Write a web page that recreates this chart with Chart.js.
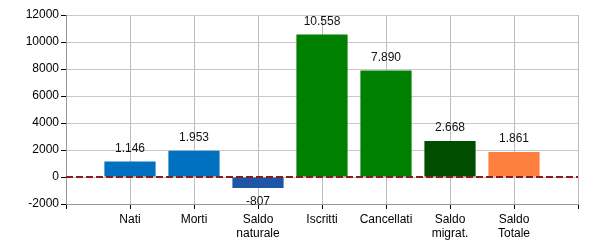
<!DOCTYPE html>
<html><head><meta charset="utf-8">
<script src="https://cdn.jsdelivr.net/npm/chart.js@4"></script>
<style>html,body{margin:0;padding:0;background:#fff}#wrap{width:600px;height:250px}</style>
</head><body><div id="wrap"><canvas id="c" width="600" height="250"></canvas></div>
<script>
const categories = ['', 'Nati', 'Morti', ['Saldo','naturale'], 'Iscritti', 'Cancellati', ['Saldo','migrat.'], ['Saldo','Totale'], ''];
const values = [null, 1146, 1953, -807, 10558, 7890, 2668, 1861, null];
const barColors = [null, '#0070C0', '#0070C0', '#1F55A5', '#008000', '#008000', '#004D00', '#FF7F40', null];
const zeroLine = [0, 0, 0, 0, 0, 0, 0, 0, 0];
const yTicks = [-2000, 0, 2000, 4000, 6000, 8000, 10000, 12000];

function fmt(v){ const s = Math.abs(v).toString().replace(/\B(?=(\d{3})+(?!\d))/g, '.'); return (v<0?'-':'')+s; }

const labelPlugin = {
  id: 'valLabels',
  afterDatasetsDraw(chart){
    const ctx = chart.ctx; const meta = chart.getDatasetMeta(0);
    ctx.save(); ctx.font = '12px "Liberation Sans", Arial, sans-serif'; ctx.fillStyle = '#111'; ctx.textAlign = 'center';
    meta.data.forEach((el, i) => {
      const v = values[i]; if (v === null) return;
      if (v >= 0) { ctx.textBaseline = 'bottom'; ctx.fillText(fmt(v), el.x, el.y - 7); }
      else { ctx.textBaseline = 'top'; ctx.fillText(fmt(v), el.x, el.y + 8); }
    });
    ctx.restore();
  }
};

new Chart(document.getElementById('c'), {
  data: {
    labels: categories,
    datasets: [
      { type: 'bar', data: values, backgroundColor: barColors, borderWidth: 0, categoryPercentage: 1, barPercentage: 0.8, order: 2 },
      { type: 'line', data: zeroLine, borderColor: '#8B1A1A', borderWidth: 2, borderDash: [7, 3], pointRadius: 0, order: 1 }
    ]
  },
  options: {
    responsive: false, animation: false,
    layout: { padding: { left: 0, right: 22, top: 15, bottom: 0 } },
    plugins: { legend: { display: false }, tooltip: { enabled: false } },
    scales: {
      x: {
        offset: false,
        grid: { offset: false, color: '#BEBEBE', tickLength: 5, tickColor: '#000' },
        border: { color: '#999' },
        ticks: { color: '#000', font: { family: '"Liberation Sans", Arial, sans-serif', size: 12 }, maxRotation: 0, autoSkip: false, padding: 3 },
        afterFit(s){ s.height = 46; }
      },
      y: {
        min: -2000, max: 12000,
        afterBuildTicks(s){ s.ticks = yTicks.map(v => ({ value: v })); },
        grid: { color: '#C8C8C8', tickLength: 5, tickColor: '#000' },
        border: { color: '#999' },
        ticks: { color: '#000', font: { family: '"Liberation Sans", Arial, sans-serif', size: 12 }, padding: 2, callback: v => String(v) },
        afterFit(s){ s.width = 66; }
      }
    }
  },
  plugins: [labelPlugin]
});
</script></body></html>
